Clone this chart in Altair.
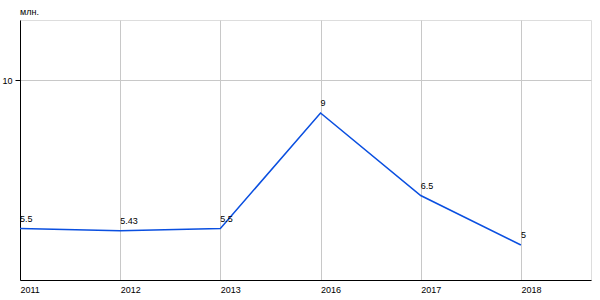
import altair as alt
import pandas as pd

years = ["2011", "2012", "2013", "2016", "2017", "2018"]
values = [5.5, 5.43, 5.5, 9, 6.5, 5]
labels = ["5.5", "5.43", "5.5", "9", "6.5", "5"]

df = pd.DataFrame({"idx": list(range(len(years))), "year": years, "value": values, "label": labels})

label_expr = "[" + ",".join('"%s"' % y for y in years) + "][datum.value]"

x = alt.X("idx:Q", scale=alt.Scale(domain=[0, 5.7], nice=False, zero=False),
          axis=alt.Axis(values=list(range(len(years))), labelExpr=label_expr, title=None,
                        grid=True, gridColor="#C8C8C8", ticks=False, domainColor="#000000",
                        labelAlign="left", labelFont="Liberation Sans", labelFontSize=9,
                        labelColor="#000000", labelPadding=5))
y = alt.Y("value:Q", scale=alt.Scale(domain=[3.94, 11.82], nice=False, zero=False),
          axis=alt.Axis(values=[10], title=None, grid=True, gridColor="#C8C8C8",
                        tickColor="#000000", tickSize=5, domainColor="#000000",
                        labelFont="Liberation Sans", labelFontSize=9, labelColor="#000000",
                        labelPadding=3))

line = alt.Chart(df).mark_line(color="#0A4FE0", strokeWidth=1.5).encode(x=x, y=y)
text = alt.Chart(df).mark_text(align="left", baseline="bottom", dy=-5, font="Liberation Sans",
                               fontSize=9, color="#000000").encode(x=x, y=y, text="label:N")

chart = (line + text).properties(
    width=571, height=260,
    title=alt.TitleParams("млн.", anchor="start", frame="group", font="Liberation Sans", fontSize=9,
                          fontWeight="normal", color="#000000", offset=3),
    padding={"left": 20, "top": 20, "right": 9, "bottom": 20},
    autosize=alt.AutoSizeParams(type="none"),
).configure_view(fill="#E9E9E9", stroke=None).configure(background="#FFFFFF")

chart.save("out.html", embed_options={"renderer": "svg", "actions": False})
